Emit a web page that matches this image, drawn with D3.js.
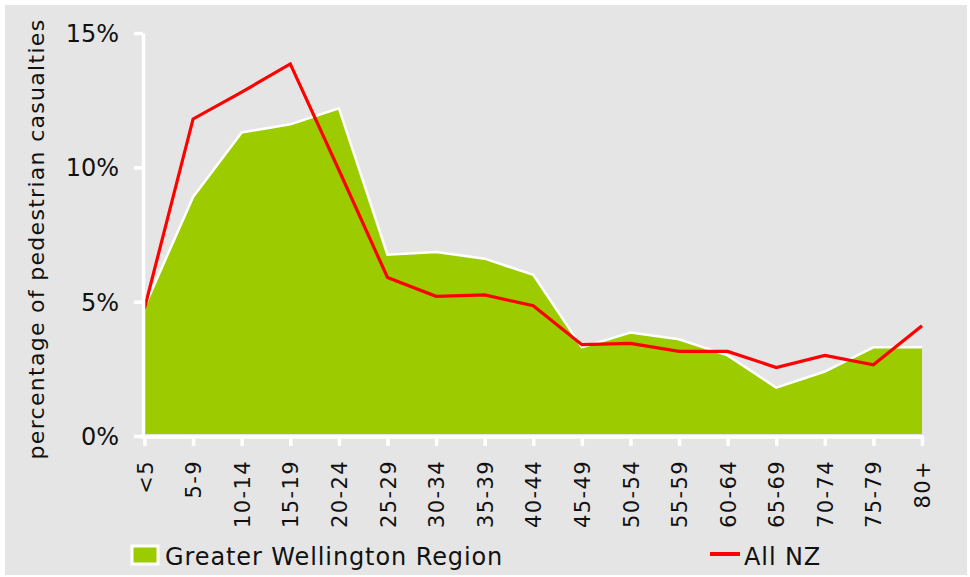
<!DOCTYPE html>
<html>
<head>
<meta charset="utf-8">
<script src="https://cdn.jsdelivr.net/npm/d3@7"></script>
<style>
  body { margin: 0; background: #fff; }
  text { font-family: "DejaVu Sans", Verdana, sans-serif; fill: #111; }
</style>
</head>
<body>
<div id="container"></div>
<script>
// age groups on the x axis
const ageGroups = ["<5", "5-9", "10-14", "15-19", "20-24", "25-29", "30-34", "35-39",
  "40-44", "45-49", "50-54", "55-59", "60-64", "65-69", "70-74", "75-79", "80+"];

// percentage of pedestrian casualties
const wellington = [4.8, 8.9, 11.3, 11.6, 12.2, 6.75, 6.85, 6.6, 6.0, 3.3, 3.85, 3.6,
  3.0, 1.8, 2.4, 3.3, 3.3];
const allNZ = [4.75, 11.8, 12.8, 13.85, 9.9, 5.9, 5.2, 5.25, 4.85, 3.4, 3.45, 3.15,
  3.15, 2.55, 3.0, 2.65, 4.1];

const yTicks = [0, 5, 10, 15];
const seriesNames = ["Greater Wellington Region", "All NZ"];

const width = 970,
  height = 577;

const svg = d3
  .select("#container")
  .append("svg")
  .attr("width", width)
  .attr("height", height);

//grey panel
svg
  .append("rect")
  .attr("x", 5)
  .attr("y", 5)
  .attr("width", 962)
  .attr("height", 570)
  .attr("fill", "#e5e5e5");

const x = d3.scalePoint().domain(ageGroups).range([144.5, 922]);
const y = d3.scaleLinear().domain([0, 15]).range([436, 33]);

//green area
const area = d3
  .area()
  .x((d, i) => x(ageGroups[i]))
  .y0(y(0) - 2)
  .y1((d) => y(d));
svg
  .append("path")
  .datum(wellington)
  .attr("d", area)
  .attr("fill", "#9ccb00");

//white outline on top of the area
svg
  .append("path")
  .datum(wellington)
  .attr(
    "d",
    d3
      .line()
      .x((d, i) => x(ageGroups[i]))
      .y((d) => y(d))
  )
  .attr("fill", "none")
  .attr("stroke", "#fff")
  .attr("stroke-width", 2.5);

//red line
svg
  .append("path")
  .datum(allNZ)
  .attr(
    "d",
    d3
      .line()
      .x((d, i) => x(ageGroups[i]))
      .y((d) => y(d))
  )
  .attr("fill", "none")
  .attr("stroke", "#ff0000")
  .attr("stroke-width", 3.2)
  .attr("stroke-linejoin", "miter");

//y axis
const yAxis = svg
  .append("g")
  .attr("transform", "translate(143,0)")
  .call(
    d3
      .axisLeft(y)
      .tickValues(yTicks)
      .tickFormat((d) => d + "%")
      .tickSize(9)
      .tickSizeOuter(0)
      .tickPadding(15)
  );
yAxis.selectAll("path, line").attr("stroke", "#fff").attr("stroke-width", 3.5);
yAxis
  .selectAll("text")
  .style("font-size", "24px")
  .attr("fill", "#111")
  .attr("dy", "0.36em");

//x axis
const xAxis = svg
  .append("g")
  .attr("transform", "translate(0,437)")
  .call(d3.axisBottom(x).tickSize(9).tickSizeOuter(0));
xAxis.select(".domain").attr("d", "M141,0H924");
xAxis.selectAll("path, line").attr("stroke", "#fff").attr("stroke-width", 3.5);
xAxis
  .selectAll("text")
  .style("font-size", "21px")
  .style("letter-spacing", "1.4px")
  .attr("fill", "#111")
  .attr("text-anchor", "end")
  .attr("transform", "translate(0,23) rotate(-90)")
  .attr("x", 0)
  .attr("y", 0)
  .attr("dy", "0.36em");

//y axis title
svg
  .append("text")
  .attr("transform", "translate(44,239) rotate(-90)")
  .attr("text-anchor", "middle")
  .style("font-size", "22px")
  .style("letter-spacing", "1.3px")
  .text("percentage of pedestrian casualties");

//legend
const legend = svg.append("g");
legend
  .append("rect")
  .attr("x", 132)
  .attr("y", 546)
  .attr("width", 26)
  .attr("height", 18)
  .attr("fill", "#9ccb00")
  .attr("stroke", "#fff")
  .attr("stroke-width", 3);
legend
  .append("text")
  .attr("x", 165)
  .attr("y", 565)
  .style("font-size", "24px")
  .style("letter-spacing", "0.9px")
  .text(seriesNames[0]);
legend
  .append("line")
  .attr("x1", 710)
  .attr("x2", 740)
  .attr("y1", 554)
  .attr("y2", 554)
  .attr("stroke", "#ff0000")
  .attr("stroke-width", 4);
legend
  .append("text")
  .attr("x", 744)
  .attr("y", 565)
  .style("font-size", "24px")
  .style("letter-spacing", "0.9px")
  .text(seriesNames[1]);
</script>
</body>
</html>
